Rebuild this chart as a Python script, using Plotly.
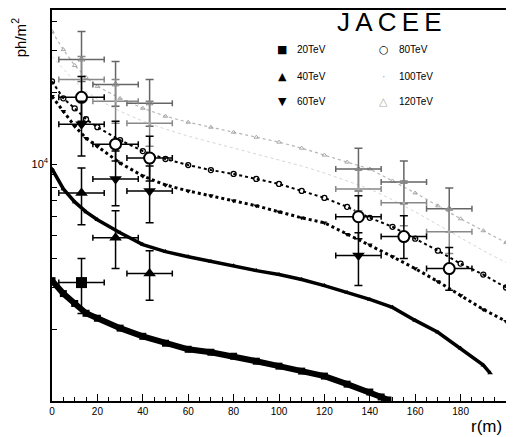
import plotly.graph_objects as go

# ---------------- simulated lateral distributions (ph/m^2 vs r) ----------------
r_sim = [0, 5, 10, 15, 20, 30, 40, 50, 60, 70, 80, 90, 100, 110, 120, 130, 140,
         150, 160, 170, 180, 190, 200]
r_20 = [0, 5, 10, 15, 20, 30, 40, 50, 60, 70, 80, 90, 100, 110, 120, 130, 140, 145, 148]
r_40 = [0, 5, 10, 15, 20, 30, 40, 50, 60, 70, 80, 90, 100, 110, 120, 130, 140,
        150, 160, 170, 180, 190, 193]

sim_20 = [3220, 2840, 2580, 2345, 2235, 2030, 1875, 1753, 1653, 1606, 1545, 1472,
          1403, 1337, 1274, 1178, 1091, 1040, 1010]
sim_40 = [9530, 7850, 6920, 6280, 5820, 5130, 4570, 4270, 4065, 3875, 3725, 3550,
          3418, 3257, 3070, 2870, 2684, 2484, 2188, 1950, 1670, 1417, 1312]
sim_60 = [19300, 16700, 14450, 12860, 11900, 10100, 8900, 8160, 7700, 7340, 6995, 6665,
          6285, 5930, 5650, 5060, 4567, 4065, 3620, 3193, 2788, 2435, 2170]
sim_80 = [22320, 18930, 17190, 15450, 14300, 12610, 11340, 10500, 9900, 9430, 9080, 8650,
          8240, 7700, 7195, 6595, 5930, 5435, 4840, 4310, 3800, 3417, 3013]
sim_100 = [28430, 25070, 22320, 20270, 18760, 16710, 15170, 14030, 13120, 12370, 11670, 11020,
           10400, 9810, 9165, 8485, 7850, 7060, 6285, 5545, 4890, 4310, 3840]
sim_120 = [36210, 30400, 26060, 23200, 21270, 18930, 17190, 15910, 15010, 14300, 13620, 12980,
           12370, 11670, 10910, 10190, 9530, 8485, 7550, 6660, 5875, 5230, 4660]

# ---------------- JACEE measured points ----------------
r_pts = [13, 28, 43, 135, 155, 175]
r_err = 10

obs_120 = [27620, 21680, 18040, 9530, 8400, 6470]
obs_120_hi = [36210, 27090, 22760, 11670, 10290, 7930]
obs_120_lo = [22320, 17520, 14450, 7700, 6790, 5180]

obs_100 = [22760, 18390, 14870, 7850, 6860, 5180]
obs_100_hi = [28430, 22760, 18390, 9530, 8480, 6470]
obs_100_lo = [18390, 14870, 11900, 6350, 5490, 4190]

obs_80 = [19120, 12130, 10600, 5990, 4940, 3620]
obs_80_hi = [23430, 15160, 13110, 7340, 6050, 4440]
obs_80_lo = [15160, 10290, 8480, 4840, 3990, 2930]

r_pts60 = [13, 28, 43, 135]
obs_60 = [14730, 8650, 7700, 4110]
obs_60_hi = [18390, 11340, 9810, 5130]
obs_60_lo = [10800, 6660, 5650, 3070]

r_pts40 = [13, 28, 43]
obs_40 = [7550, 4890, 3450]
obs_40_hi = [9620, 6350, 4310]
obs_40_lo = [5540, 3620, 2660]

r_pts20 = [13]
obs_20 = [3160]
obs_20_hi = [3990]
obs_20_lo = [2340]

y_ticks = [2000, 3000, 4000, 5000, 6000, 7000, 8000, 9000, 10000, 20000, 30000, 40000]
y_ticktext = ['', '', '', '', '', '', '', '', '10<sup>4</sup>', '', '', '']

legend_items = [('■', '20TeV'), ('▲', '40TeV'), ('▼', '60TeV'),
                ('○', '80TeV'), ('·', '100TeV'), ('△', '120TeV')]

FONT = 'Liberation Sans'

fig = go.Figure()

# simulated curves
fig.add_trace(go.Scatter(x=r_sim, y=sim_120, mode='lines+markers',
                         line=dict(color='#b4b4b4', width=1.2, dash='dot'),
                         marker=dict(symbol='triangle-up-open', size=4, color='#a8a8a8')))
fig.add_trace(go.Scatter(x=r_sim, y=sim_100, mode='lines',
                         line=dict(color='#d6d6d6', width=1, dash='dot')))
fig.add_trace(go.Scatter(x=r_sim, y=sim_80, mode='lines+markers',
                         line=dict(color='black', width=2, dash='dot'),
                         marker=dict(symbol='circle-open', size=5, color='black',
                                     line=dict(width=1.3))))
fig.add_trace(go.Scatter(x=r_sim, y=sim_60, mode='lines+markers',
                         line=dict(color='black', width=3, dash='dot'),
                         marker=dict(symbol='triangle-down', size=5, color='black')))
fig.add_trace(go.Scatter(x=r_40, y=sim_40, mode='lines+markers',
                         line=dict(color='black', width=3.5),
                         marker=dict(symbol='triangle-up', size=5, color='black')))
fig.add_trace(go.Scatter(x=r_20, y=sim_20, mode='lines+markers',
                         line=dict(color='black', width=6),
                         marker=dict(symbol='square', size=7, color='black')))


def err_trace(xs, ys, hi, lo, symbol, size, color, ecolor, fill=None, lw=0):
    return go.Scatter(
        x=xs, y=ys, mode='markers',
        marker=dict(symbol=symbol, size=size, color=fill or color,
                    line=dict(color=color, width=lw)),
        error_x=dict(type='constant', value=r_err, color=ecolor, thickness=1.5, width=3),
        error_y=dict(type='data', symmetric=False,
                     array=[h - v for h, v in zip(hi, ys)],
                     arrayminus=[v - l for v, l in zip(ys, lo)],
                     color=ecolor, thickness=1.5, width=4))


fig.add_trace(err_trace(r_pts, obs_120, obs_120_hi, obs_120_lo, 'triangle-up-open', 6,
                        '#888888', '#666666', lw=1))
fig.add_trace(err_trace(r_pts, obs_100, obs_100_hi, obs_100_lo, 'circle', 3,
                        '#aaaaaa', '#888888'))
fig.add_trace(err_trace(r_pts, obs_80, obs_80_hi, obs_80_lo, 'circle', 11,
                        'black', 'black', fill='white', lw=2))
fig.add_trace(err_trace(r_pts60, obs_60, obs_60_hi, obs_60_lo, 'triangle-down', 11,
                        'black', 'black'))
fig.add_trace(err_trace(r_pts40, obs_40, obs_40_hi, obs_40_lo, 'triangle-up', 11,
                        'black', 'black'))
fig.add_trace(err_trace(r_pts20, obs_20, obs_20_hi, obs_20_lo, 'square', 11,
                        'black', 'black'))

fig.update_traces(showlegend=False, hoverinfo='skip')

# legend drawn as text, two columns x three rows
annos = []
for i, (sym, lab) in enumerate(legend_items):
    col, row = divmod(i, 3)
    ypos = [0.898, 0.829, 0.766][row]
    xs = [0.507, 0.731][col]
    scol = '#aaaaaa' if lab in ('100TeV', '120TeV') else 'black'
    annos.append(dict(x=xs, y=ypos, xref='paper', yref='paper', text=sym, showarrow=False,
                      xanchor='center', yanchor='middle',
                      font=dict(family='DejaVu Sans', size=11, color=scol)))
    annos.append(dict(x=xs + 0.029, y=ypos, xref='paper', yref='paper', text=lab,
                      showarrow=False, xanchor='left', yanchor='middle',
                      font=dict(family=FONT, size=10, color='black')))

annos.append(dict(x=0.744, y=0.969, xref='paper', yref='paper',
                  text='J\u2009A\u2009C\u2009E\u2009E',
                  showarrow=False, xanchor='center', yanchor='middle',
                  font=dict(family=FONT, size=26, color='black')))
annos.append(dict(x=-0.073, y=0.93, xref='paper', yref='paper', text='ph/m<sup>2</sup>',
                  textangle=-90, showarrow=False, xanchor='center', yanchor='middle',
                  font=dict(family=FONT, size=15, color='black')))
annos.append(dict(x=0.958, y=-0.066, xref='paper', yref='paper', text='r(m)',
                  showarrow=False, xanchor='center', yanchor='middle',
                  font=dict(family=FONT, size=17, color='black')))

# page body adds an 8px offset, so the figure is 8px smaller than the window
fig.update_layout(
    width=506, height=429,
    margin=dict(l=44, r=8, t=0, b=36),
    paper_bgcolor='white', plot_bgcolor='white',
    annotations=annos,
    font=dict(family=FONT, color='black'),
)
fig.update_xaxes(range=[0, 200], showgrid=False, zeroline=False,
                 showline=True, linecolor='black', linewidth=1.5, mirror=True,
                 ticks='inside', ticklen=7, tickwidth=1, tickcolor='black',
                 tickvals=list(range(0, 201, 20)),
                 minor=dict(dtick=5, ticks='inside', ticklen=4, tickcolor='black'),
                 tickfont=dict(family=FONT, size=10, color='black'))
fig.update_yaxes(type='log', range=[3.0, 4.65], showgrid=False, zeroline=False,
                 showline=True, linecolor='black', linewidth=1.5, mirror=True,
                 ticks='inside', ticklen=5, tickwidth=1, tickcolor='black',
                 tickvals=y_ticks, ticktext=y_ticktext,
                 tickfont=dict(family=FONT, size=11, color='black'))

fig.write_html("out.html")
